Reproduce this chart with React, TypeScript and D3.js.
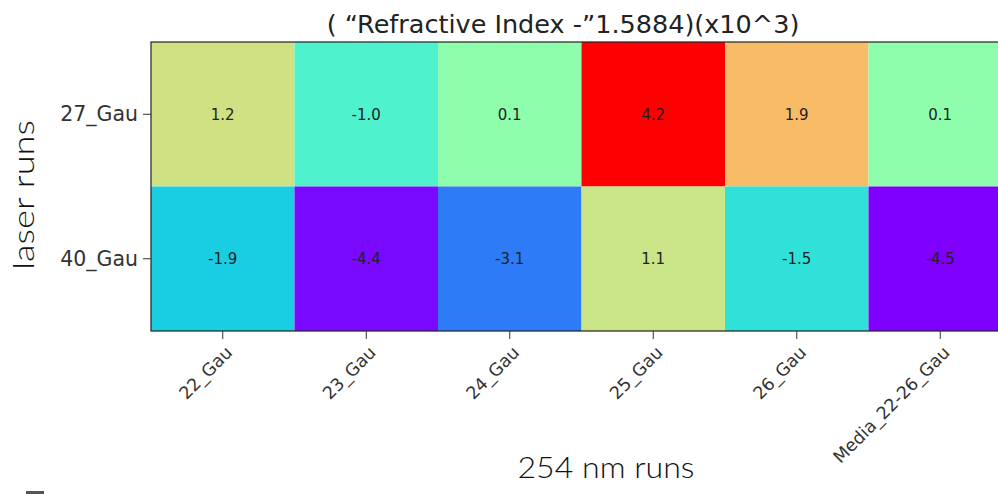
import React from 'react';
import * as d3 from 'd3';

const cols = ['22_Gau', '23_Gau', '24_Gau', '25_Gau', '26_Gau', 'Media_22-26_Gau'];
const rows = ['27_Gau', '40_Gau'];
const values27 = [1.2, -1.0, 0.1, 4.2, 1.9, 0.1];
const values40 = [-1.9, -4.4, -3.1, 1.1, -1.5, -4.5];
const title = '( \u201cRefractive Index -\u201d1.5884)(x10^3)';

const W = 998;
const H = 494;

// matplotlib "rainbow" colormap
const rainbow = (t: number) =>
  d3.rgb(
    Math.min(1, Math.abs(2 * t - 0.5)) * 255,
    Math.sin(Math.PI * t) * 255,
    Math.cos((Math.PI / 2) * t) * 255
  ).toString();

const App = () => {
  const table = [values27, values40];
  const cells = rows.flatMap((r, i) => cols.map((c, j) => ({ r, c, v: table[i][j] })));
  const all = cells.map(d => d.v);

  const x = d3.scaleBand().domain(cols).range([151, 1012]);
  const y = d3.scaleBand().domain(rows).range([42, 331]);
  const color = d3.scaleSequential(rainbow).domain([d3.min(all), d3.max(all)]);

  const tickFont = 'DejaVu Sans, sans-serif';
  const labelFont = 'Lato, sans-serif';

  return (
    <svg width={W} height={H} style={{ position: 'absolute', left: 0, top: 0, background: '#fff' }}>
      {/* title */}
      <text x={563} y={33} textAnchor="middle" fontFamily={tickFont} fontSize={25.5} fill="#222">
        {title}
      </text>

      {/* cells */}
      {cells.map(d => (
        <g key={d.r + d.c}>
          <rect x={x(d.c)} y={y(d.r)} width={x.bandwidth()} height={y.bandwidth()} fill={color(d.v)} />
          <text
            x={x(d.c)! + x.bandwidth() / 2}
            y={y(d.r)! + y.bandwidth() / 2}
            dy="0.35em"
            textAnchor="middle"
            fontFamily={tickFont}
            fontSize={15}
            fill="#222"
          >
            {d.v.toFixed(1)}
          </text>
        </g>
      ))}

      {/* frame */}
      <rect x={151} y={42} width={1012 - 151} height={331 - 42} fill="none" stroke="#222" strokeWidth={1.2} />

      {/* y axis */}
      {rows.map(r => {
        const cy = y(r)! + y.bandwidth() / 2;
        return (
          <g key={r}>
            <line x1={143} x2={151} y1={cy} y2={cy} stroke="#333" />
            <text x={138} y={cy} dy="0.35em" textAnchor="end" fontFamily={tickFont} fontSize={20.5} fill="#333">
              {r}
            </text>
          </g>
        );
      })}

      {/* x axis */}
      {cols.map(c => {
        const cx = x(c)! + x.bandwidth() / 2;
        return (
          <g key={c}>
            <line x1={cx} x2={cx} y1={331} y2={339} stroke="#333" />
            <text
              transform={`translate(${cx + 2},${345}) rotate(-45)`}
              textAnchor="end"
              dy="0.7em"
              fontFamily={tickFont}
              fontSize={17.5}
              fill="#333"
            >
              {c}
            </text>
          </g>
        );
      })}

      {/* axis labels */}
      <text
        x={606}
        y={478}
        textAnchor="middle"
        fontFamily={labelFont}
        fontWeight={300}
        fontSize={30}
        fill="#111"
        textLength={177}
        lengthAdjust="spacingAndGlyphs"
      >
        254 nm runs
      </text>
      <text
        transform={`translate(34,195) rotate(-90)`}
        textAnchor="middle"
        fontFamily={labelFont}
        fontWeight={300}
        fontSize={30}
        fill="#111"
        textLength={150}
        lengthAdjust="spacingAndGlyphs"
      >
        laser runs
      </text>

      <rect x={26} y={491} width={18} height={3} fill="#555" />
    </svg>
  );
};

export default App;
